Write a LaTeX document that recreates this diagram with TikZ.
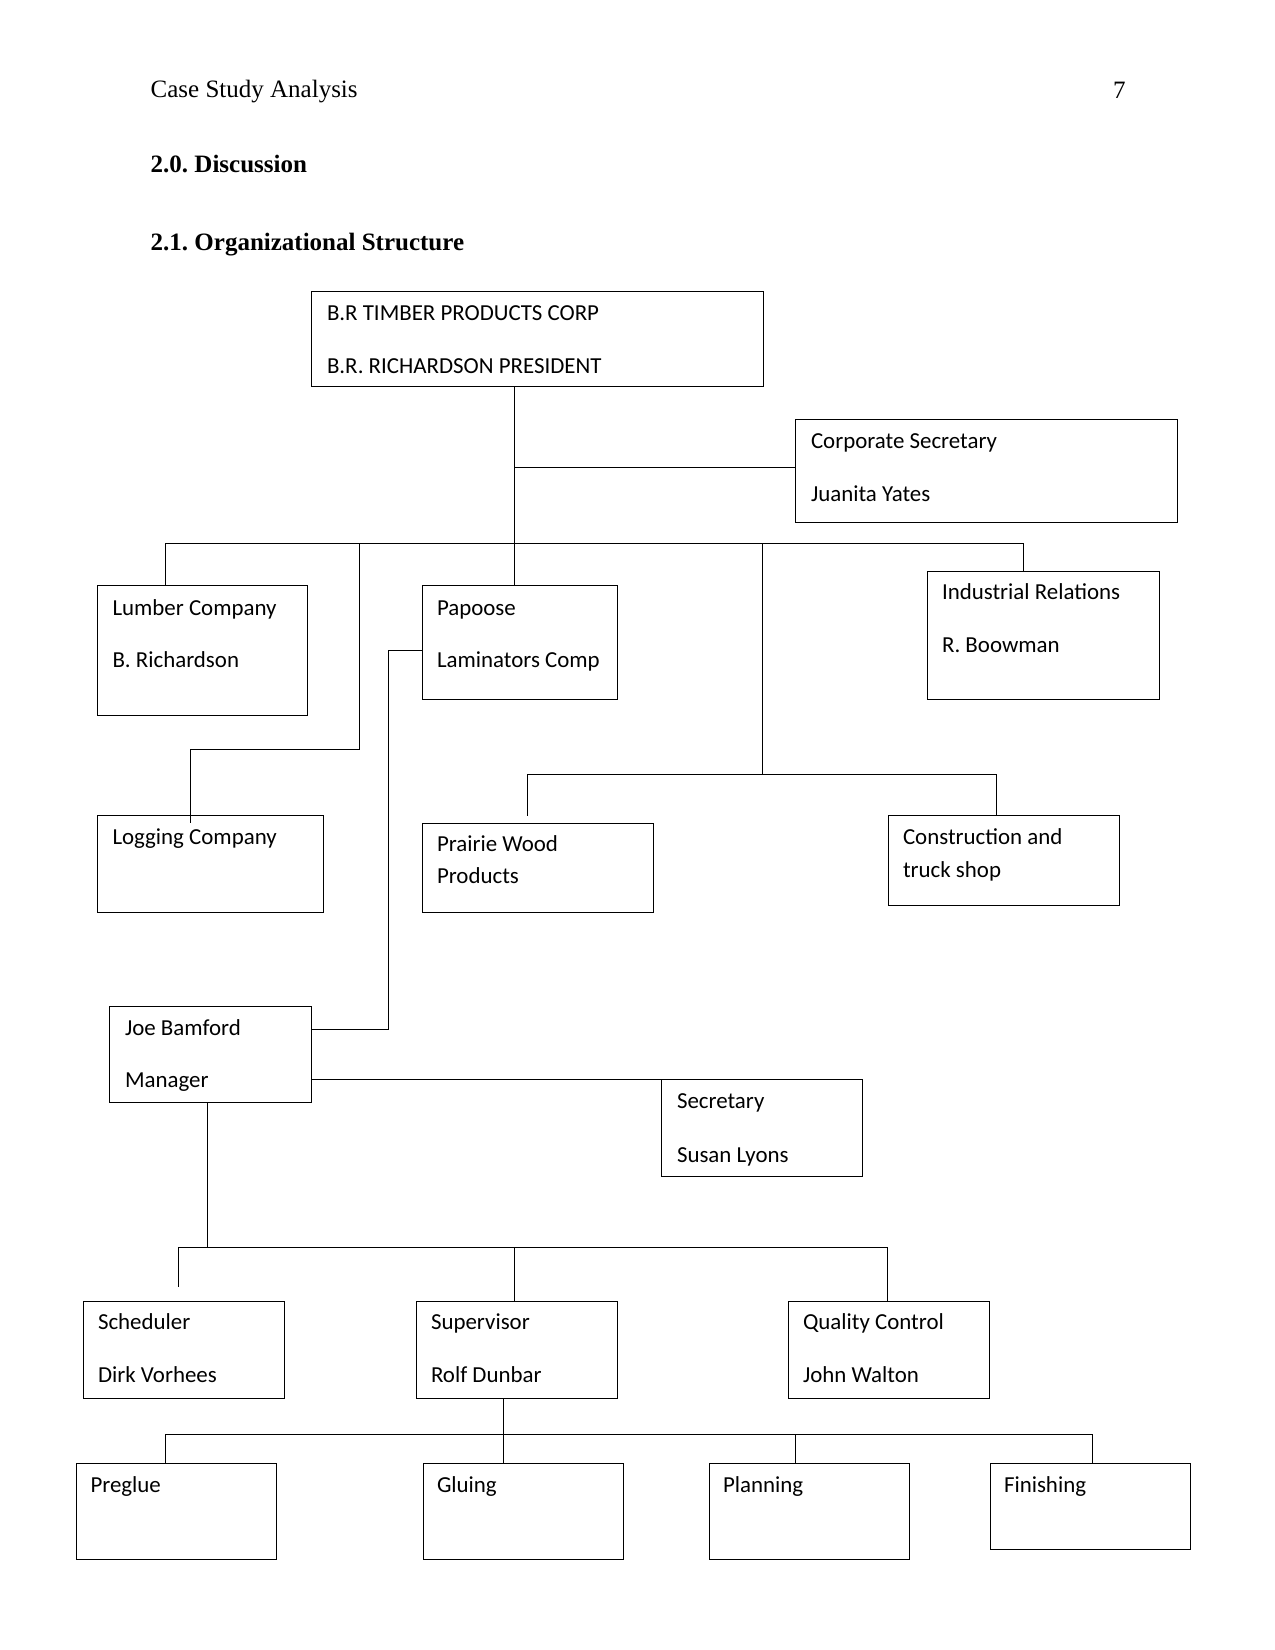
\documentclass[tikz,border=0pt]{standalone}
\usepackage{fontspec}
\setmainfont{Liberation Serif}
\newfontfamily\boxfont{Carlito}
\frenchspacing
\begin{document}
\begin{tikzpicture}[x=1pt,y=-1pt,
  box/.style={draw, line width=0.95pt, inner sep=0pt, outer sep=0pt, anchor=north west},
  txt/.style={inner sep=0pt, outer sep=0pt, anchor=base west, font=\boxfont\fontsize{22.9}{27}\selectfont},
  head/.style={inner sep=0pt, outer sep=0pt, anchor=base west, font=\fontsize{25}{30}\selectfont},
  conn/.style={line width=0.95pt}]
\useasboundingbox[fill=white] (0,0) rectangle (1275,1650);

% header
\node[head] (hdr) at (150.7,97.3) {Case Study Analysis};
\node[head] (pg) at (1113,98) {7};
\node[head, font=\fontsize{25}{30}\selectfont\bfseries] (h20) at (150.7,172.7) {2.0. Discussion};
\node[head, font=\fontsize{25}{30}\selectfont\bfseries] (h21) at (150.7,250.7) {2.1. Organizational Structure};

% boxes
\node[box, minimum width=452pt, minimum height=95pt] (top) at (311,291) {};
\node[txt] (topA) at (327,320) {B.R TIMBER PRODUCTS CORP};
\node[txt] (topB) at (327,373) {B.R. RICHARDSON PRESIDENT};

\node[box, minimum width=382pt, minimum height=103pt] (cs) at (795,419) {};
\node[txt] (csA) at (811,448) {Corporate Secretary};
\node[txt] (csB) at (811,501) {Juanita Yates};

\node[box, minimum width=210pt, minimum height=130pt] (lum) at (97,585) {};
\node[txt] (lumA) at (112.5,615) {Lumber Company};
\node[txt] (lumB) at (112.5,667) {B. Richardson};

\node[box, minimum width=195pt, minimum height=114pt] (pap) at (422,585) {};
\node[txt] (papA) at (437,615) {Papoose};
\node[txt] (papB) at (437,667) {Laminators Comp};

\node[box, minimum width=232pt, minimum height=128pt] (ir) at (927,571) {};
\node[txt] (irA) at (942,599) {Industrial Relations};
\node[txt] (irB) at (942,652) {R. Boowman};

\node[box, minimum width=226pt, minimum height=97pt] (log) at (97,815) {};
\node[txt] (logA) at (112.5,844) {Logging Company};

\node[box, minimum width=231pt, minimum height=89pt] (pw) at (422,823) {};
\node[txt] (pwA) at (437,851) {Prairie Wood};
\node[txt] (pwB) at (437,883) {Products};

\node[box, minimum width=231pt, minimum height=90pt] (con) at (888,815) {};
\node[txt] (conA) at (903,844) {Construction and};
\node[txt] (conB) at (903,877) {truck shop};

\node[box, minimum width=202pt, minimum height=96pt] (joe) at (109,1006) {};
\node[txt] (joeA) at (125,1035) {Joe Bamford};
\node[txt] (joeB) at (125,1087) {Manager};

\node[box, minimum width=201pt, minimum height=97pt] (sec) at (661,1079) {};
\node[txt] (secA) at (677,1108) {Secretary};
\node[txt] (secB) at (677,1162) {Susan Lyons};

\node[box, minimum width=201pt, minimum height=97pt] (sch) at (83,1301) {};
\node[txt] (schA) at (98,1329) {Scheduler};
\node[txt] (schB) at (98,1382) {Dirk Vorhees};

\node[box, minimum width=201pt, minimum height=97pt] (sup) at (416,1301) {};
\node[txt] (supA) at (431,1329) {Supervisor};
\node[txt] (supB) at (431,1382) {Rolf Dunbar};

\node[box, minimum width=201pt, minimum height=97pt] (qc) at (788,1301) {};
\node[txt] (qcA) at (803,1329) {Quality Control};
\node[txt] (qcB) at (803,1382) {John Walton};

\node[box, minimum width=200pt, minimum height=96pt] (pre) at (76,1463) {};
\node[txt] (preA) at (90.5,1492) {Preglue};

\node[box, minimum width=200pt, minimum height=96pt] (glu) at (423,1463) {};
\node[txt] (gluA) at (437,1492) {Gluing};

\node[box, minimum width=200pt, minimum height=96pt] (pla) at (709,1463) {};
\node[txt] (plaA) at (723,1492) {Planning};

\node[box, minimum width=200pt, minimum height=86pt] (fin) at (990,1463) {};
\node[txt] (finA) at (1004,1492) {Finishing};

% junction coordinates
\coordinate (busA) at (514,543);
\coordinate (csj) at (514,467);
\coordinate (busL) at (165,543);
\coordinate (busR) at (1023,543);
\coordinate (lg1) at (359,543);
\coordinate (lg2) at (359,749);
\coordinate (lg3) at (190,749);
\coordinate (lg4) at (190,823);
\coordinate (m1) at (762,543);
\coordinate (m2) at (762,774);
\coordinate (mL) at (527,774);
\coordinate (mR) at (996,774);
\coordinate (pwt) at (527,816);
\coordinate (pj1) at (388,650);
\coordinate (pj2) at (388,1029);
\coordinate (jb) at (207,1247);
\coordinate (b2L) at (178.5,1247);
\coordinate (b2R) at (887,1247);
\coordinate (b2M) at (514,1247);
\coordinate (schE) at (178.5,1287);
\coordinate (b3M) at (503,1434);
\coordinate (b3L) at (165,1434);
\coordinate (b3R) at (1092,1434);
\coordinate (b3P) at (795,1434);

% connectors
\draw[conn] (top.south -| busA) -- (busA);
\draw[conn] (csj) -- (cs.west |- csj);
\draw[conn] (busL) -- (busR);
\draw[conn] (busL) -- (lum.north -| busL);
\draw[conn] (busA) -- (pap.north -| busA);
\draw[conn] (busR) -- (ir.north -| busR);
\draw[conn] (lg1) -- (lg2) -- (lg3) -- (lg4);
\draw[conn] (m1) -- (m2);
\draw[conn] (mL) -- (mR);
\draw[conn] (mL) -- (pwt);
\draw[conn] (mR) -- (con.north -| mR);
\draw[conn] (pap.west |- pj1) -- (pj1) -- (pj2) -- (joe.east |- pj2);
\draw[conn] (joe.east |- sec.north) -- (sec.north west);
\draw[conn] (joe.south -| jb) -- (jb);
\draw[conn] (b2L) -- (b2R);
\draw[conn] (b2L) -- (schE);
\draw[conn] (b2M) -- (sup.north -| b2M);
\draw[conn] (b2R) -- (qc.north -| b2R);
\draw[conn] (sup.south -| b3M) -- (glu.north -| b3M);
\draw[conn] (b3L) -- (b3R);
\draw[conn] (b3L) -- (pre.north -| b3L);
\draw[conn] (b3P) -- (pla.north -| b3P);
\draw[conn] (b3R) -- (fin.north -| b3R);
\end{tikzpicture}
\end{document}
